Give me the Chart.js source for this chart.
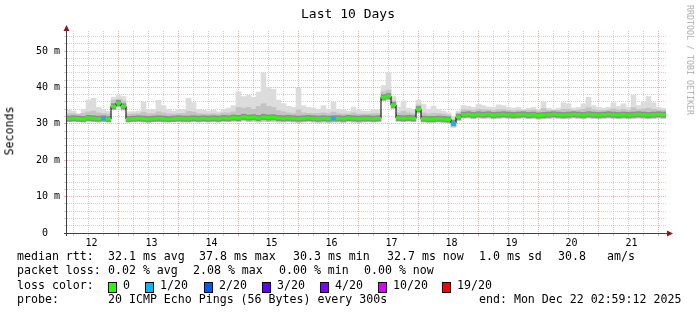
<!DOCTYPE html>
<html lang="en">
<head>
  <meta charset="UTF-8" />
  <title>Last 10 Days</title>
  <script src="https://cdn.jsdelivr.net/npm/chart.js"></script>
  <style>
    body { margin: 0; background: #fff; }
    .wrap { position: relative; width: 697px; height: 315px; font-family: 'DejaVu Sans Mono', monospace; color: #000; }
    .wrap canvas { position: absolute; left: 0; top: 0; }
    .t { position: absolute; white-space: pre; line-height: 1; font-size: 11.6px; }
    .box { position: absolute; width: 7px; height: 9px; border: 1px solid #000; }
  </style>
</head>
<body>
<div class="wrap" id="wrap">
  <canvas id="ping" width="697" height="315"></canvas>
  <div class="t" style="left:348px;top:7px;font-size:13px;transform:translateX(-50%)">Last 10 Days</div>
  <div class="t" style="left:10px;top:131px;transform:translate(-50%,-50%) rotate(-90deg)">Seconds</div>
  <div class="t" style="left:690px;top:60px;font-size:8.3px;color:#aaa;transform:translate(-50%,-50%) rotate(90deg)">RRDTOOL / TOBI OETIKER</div>

  <div class="t" style="left:17px;top:251px">median rtt:</div>
  <div class="t" style="left:108px;top:251px">32.1 ms avg</div>
  <div class="t" style="left:199px;top:251px">37.8 ms max</div>
  <div class="t" style="left:293px;top:251px">30.3 ms min</div>
  <div class="t" style="left:387px;top:251px">32.7 ms now</div>
  <div class="t" style="left:479px;top:251px">1.0 ms sd</div>
  <div class="t" style="left:558px;top:251px">30.8</div>
  <div class="t" style="left:607px;top:251px">am/s</div>

  <div class="t" style="left:17px;top:265px">packet loss:</div>
  <div class="t" style="left:108px;top:265px">0.02 % avg</div>
  <div class="t" style="left:193px;top:265px">2.08 % max</div>
  <div class="t" style="left:279px;top:265px">0.00 % min</div>
  <div class="t" style="left:364px;top:265px">0.00 % now</div>

  <div class="t" style="left:17px;top:280px">loss color:</div>

  <div class="t" style="left:17px;top:294px">probe:</div>
  <div class="t" style="left:108px;top:294px">20 ICMP Echo Pings (56 Bytes) every 300s</div>
  <div class="t" style="left:479px;top:294px">end: Mon Dec 22 02:59:12 2025</div>
</div>

<script>
  // 2-hour buckets, hours counted from Dec 12 00:00
  const startHour = 4;
  const stepHours = 2;

  const dayLabels = ['12', '13', '14', '15', '16', '17', '18', '19', '20', '21'];

  // median rtt in ms
  const median = [
    31.4,31.5,31.4,31.3,31.6,31.5,31.4,31.5,31.3,
    34.8,35.7,34.8,
    31.3,31.4,31.5,31.4,31.3,31.4,31.5,31.4,31.3,31.4,31.5,31.4,31.4,31.5,31.4,31.5,31.4,
    31.5,31.4,31.6,31.5,31.7,31.6,31.9,31.7,31.8,31.6,31.9,31.7,31.8,31.6,31.5,31.6,
    31.5,31.4,31.5,31.6,31.5,31.4,31.5,31.4,31.5,31.5,31.4,31.6,31.5,31.4,31.5,
    31.5,31.4,31.5,
    37.3,37.6,35.2,
    31.6,31.5,31.6,31.5,
    34.0,31.4,
    31.3,31.3,31.4,31.3,31.2,
    30.2,31.9,
    32.5,32.6,32.4,32.6,32.5,32.6,32.4,32.5,32.6,32.5,
    32.4,32.5,32.6,32.4,32.5,32.3,32.4,32.5,32.6,32.5,
    32.4,32.5,32.6,32.5,32.4,32.6,32.5,32.4,32.5,32.6,
    32.5,32.4,32.5,32.4,32.5,32.6,32.5,32.4,32.5,32.6,
    32.5
  ];

  // highest ping of the bucket
  const smokeMax = [
    33.8,33.5,32.8,34.0,36.5,37.0,34.5,34.0,33.5,
    37.3,37.8,37.5,
    33.3,33.3,33.5,36.0,34.0,34.0,36.5,35.0,34.0,33.5,34.0,34.0,37.0,35.8,34.0,33.8,33.5,
    33.8,33.3,34.0,34.3,35.0,38.8,37.5,37.8,37.3,38.7,44.0,40.0,39.5,36.5,35.5,34.8,
    34.5,39.8,35.0,34.5,34.3,34.0,35.0,34.0,36.0,34.0,33.8,33.5,34.5,33.8,33.5,
    33.5,34.0,33.8,
    40.5,44.0,37.5,
    34.5,36.3,34.3,34.0,
    36.5,35.3,
    34.0,34.8,34.0,33.5,33.0,
    32.0,33.5,
    35.0,34.8,34.5,35.3,35.0,34.6,34.5,35.2,35.0,34.5,
    34.3,34.5,34.0,34.3,34.5,34.0,36.0,34.3,34.0,34.3,
    35.8,35.5,34.3,34.5,35.5,37.3,35.0,34.5,34.3,34.5,
    35.8,34.8,35.5,34.5,37.8,35.0,36.0,37.5,35.8,34.5,
    34.3
  ];

  // upper edge of the denser part of the smoke
  const smokeMid = [
    32.8,32.8,32.6,32.9,33.3,33.5,33.0,32.8,32.7,
    36.5,36.8,36.3,
    32.6,32.7,32.8,33.2,32.8,32.8,33.3,33.0,32.7,32.7,32.8,32.8,33.4,33.2,32.8,32.7,32.7,
    32.8,32.7,33.0,33.0,33.3,34.5,34.3,34.5,34.0,34.8,35.5,34.8,34.5,33.6,33.3,33.0,
    32.9,33.8,33.0,32.9,32.8,32.8,33.0,32.8,33.2,32.8,32.7,32.7,33.0,32.7,32.7,
    32.7,32.8,32.8,
    38.8,39.3,36.3,
    33.0,33.4,33.0,32.8,
    35.2,33.0,
    32.7,32.9,32.8,32.6,32.4,
    31.2,33.0,
    33.9,33.8,33.7,34.0,33.9,33.8,33.7,33.9,33.9,33.7,
    33.6,33.7,33.6,33.7,33.8,33.5,34.2,33.7,33.7,33.7,
    34.0,34.0,33.7,33.8,34.0,34.4,33.9,33.7,33.7,33.8,
    34.1,33.8,34.0,33.7,34.4,33.9,34.1,34.3,34.0,33.8,
    33.7
  ];

  // lowest ping of the bucket
  const smokeMin = [
    30.6,30.7,30.6,30.5,30.7,30.6,30.5,30.6,30.5,
    33.9,34.6,33.8,
    30.5,30.6,30.6,30.5,30.4,30.6,30.6,30.5,30.5,30.6,30.6,30.5,30.5,30.6,30.5,30.6,30.5,
    30.6,30.5,30.6,30.6,30.7,30.6,30.8,30.6,30.7,30.5,30.7,30.6,30.7,30.5,30.5,30.6,
    30.5,30.4,30.5,30.6,30.5,30.4,30.5,30.4,30.5,30.5,30.4,30.6,30.5,30.4,30.5,
    30.6,30.5,30.6,
    36.3,36.6,34.2,
    30.7,30.6,30.7,30.6,
    33.0,30.5,
    30.4,30.4,30.5,30.4,30.3,
    29.1,30.9,
    31.6,31.6,31.4,31.6,31.5,31.6,31.4,31.5,31.6,31.5,
    31.4,31.5,31.6,31.4,31.5,31.3,31.4,31.5,31.6,31.5,
    31.4,31.5,31.6,31.5,31.4,31.6,31.5,31.4,31.5,31.6,
    31.5,31.4,31.5,31.4,31.5,31.6,31.5,31.4,31.5,31.6,
    31.5
  ];

  // lost pings out of 20
  const loss = [
    0,0,0,0,0,0,0,1,0,0,0,0,0,0,0,0,0,0,0,0,
    0,0,0,0,0,0,0,0,0,0,0,0,0,0,0,0,0,0,0,0,
    0,0,0,0,0,0,0,0,0,0,0,0,0,1,0,0,0,0,0,0,
    0,0,0,0,0,0,0,0,0,0,0,0,0,0,0,0,0,1,0,0,
    0,0,0,0,0,0,0,0,0,0,0,0,0,0,0,0,0,0,0,0,
    0,0,0,0,0,0,0,0,0,0,0,0,0,0,0,0,0,0,0,0
  ];

  const lossLabels = ['0', '1/20', '2/20', '3/20', '4/20', '10/20', '19/20'];
  const lossLimits = [0, 1, 2, 3, 4, 10, 19];
  const lossColors = ['#26ff00', '#00b8ff', '#0059ff', '#5e00ff', '#7e00ff', '#dd00ff', '#ff0000'];

  function lossColor(n) {
    let c = lossColors[0];
    lossLimits.forEach((lim, k) => { if (n >= lim) c = lossColors[k]; });
    return c;
  }

  // loss colour legend row
  const boxX = [108, 145, 204, 262, 320, 378, 442];
  const wrap = document.getElementById('wrap');
  lossLabels.forEach((lab, k) => {
    const b = document.createElement('div');
    b.className = 'box';
    b.style.left = boxX[k] + 'px';
    b.style.top = '282px';
    b.style.background = lossColors[k];
    wrap.appendChild(b);
    const t = document.createElement('div');
    t.className = 't';
    t.style.left = (boxX[k] + 15) + 'px';
    t.style.top = '280px';
    t.textContent = lab;
    wrap.appendChild(t);
  });

  const hours = median.map((_, i) => startHour + stepHours * i);
  const pts = arr => hours.map((h, i) => ({ x: h, y: arr[i] }));

  const GRID_RED = 'rgba(238,140,140,0.7)';
  const GRID_GRAY = 'rgba(175,175,175,0.55)';

  const axisArrows = {
    id: 'axisArrows',
    afterDatasetsDraw(chart) {
      const { ctx, chartArea: a } = chart;
      ctx.save();
      ctx.strokeStyle = '#404040';
      ctx.lineWidth = 1;
      ctx.beginPath();
      ctx.moveTo(a.left - 0.5, a.bottom + 3);
      ctx.lineTo(a.left - 0.5, a.top - 2);
      ctx.moveTo(a.left - 3, a.bottom + 0.5);
      ctx.lineTo(a.right + 2, a.bottom + 0.5);
      ctx.stroke();
      ctx.fillStyle = '#8b1a1a';
      ctx.beginPath();
      ctx.moveTo(a.left - 3.5, a.top);
      ctx.lineTo(a.left + 2.5, a.top);
      ctx.lineTo(a.left - 0.5, a.top - 6);
      ctx.closePath();
      ctx.fill();
      ctx.beginPath();
      ctx.moveTo(a.right + 1, a.bottom - 2.5);
      ctx.lineTo(a.right + 1, a.bottom + 3.5);
      ctx.lineTo(a.right + 7, a.bottom + 0.5);
      ctx.closePath();
      ctx.fill();
      ctx.restore();
    }
  };

  Chart.defaults.font.family = "'DejaVu Sans Mono', monospace";
  Chart.defaults.color = '#000';

  new Chart(document.getElementById('ping'), {
    type: 'bar',
    data: {
      datasets: [
        {
          // median, coloured by packet loss
          type: 'line',
          data: pts(median),
          showLine: false,
          pointStyle: 'line',
          pointRadius: 2.6,
          pointBorderWidth: 3,
          pointBorderColor: loss.map(lossColor),
          pointBackgroundColor: loss.map(lossColor),
          order: 0
        },
        {
          type: 'line',
          data: pts(median),
          stepped: 'middle',
          borderColor: '#000',
          borderWidth: 1,
          pointRadius: 0,
          order: 1
        },
        {
          // dense smoke right around the median
          type: 'line',
          data: pts(median),
          showLine: false,
          pointStyle: 'line',
          pointRadius: 2.6,
          pointBorderWidth: 6,
          pointBorderColor: '#8e8e8e',
          order: 2
        },
        {
          data: hours.map((h, i) => ({ x: h, y: [smokeMin[i], smokeMid[i]] })),
          backgroundColor: '#c4c4c4',
          grouped: false,
          barPercentage: 1,
          categoryPercentage: 1,
          order: 3
        },
        {
          data: hours.map((h, i) => ({ x: h, y: [smokeMin[i], smokeMax[i]] })),
          backgroundColor: '#dcdcdc',
          grouped: false,
          barPercentage: 1,
          categoryPercentage: 1,
          order: 4
        }
      ]
    },
    options: {
      responsive: false,
      animation: false,
      layout: { padding: { left: 0, top: 31, right: 31, bottom: 62 } },
      plugins: { legend: { display: false }, tooltip: { enabled: false } },
      scales: {
        x: {
          type: 'linear',
          min: 3.4,
          max: 243,
          offset: false,
          afterFit: s => { s.height = 20; },
          grid: {
            offset: false,
            color: c => (c.tick && c.tick.value % 24 === 0 ? GRID_RED : GRID_GRAY),
            tickLength: 3
          },
          border: { display: false, dash: [1, 1] },
          ticks: {
            stepSize: 6,
            includeBounds: false,
            autoSkip: false,
            maxRotation: 0,
            padding: 1,
            labelOffset: 3,
            font: { size: 10 },
            callback: v => (v % 24 === 12 ? dayLabels[(v - 12) / 24] : '')
          }
        },
        y: {
          min: 0,
          max: 55.5,
          afterFit: s => { s.width = 67; },
          grid: {
            color: c => (c.tick && c.tick.value % 10 === 0 ? GRID_RED : GRID_GRAY),
            tickLength: 3
          },
          border: { display: false, dash: [1, 1] },
          ticks: {
            stepSize: 2,
            includeBounds: false,
            autoSkip: false,
            padding: 4,
            font: { size: 10 },
            callback: v => (v % 10 === 0 ? (v === 0 ? '0  ' : v + ' m') : '')
          }
        }
      }
    },
    plugins: [axisArrows]
  });
</script>
</body>
</html>
